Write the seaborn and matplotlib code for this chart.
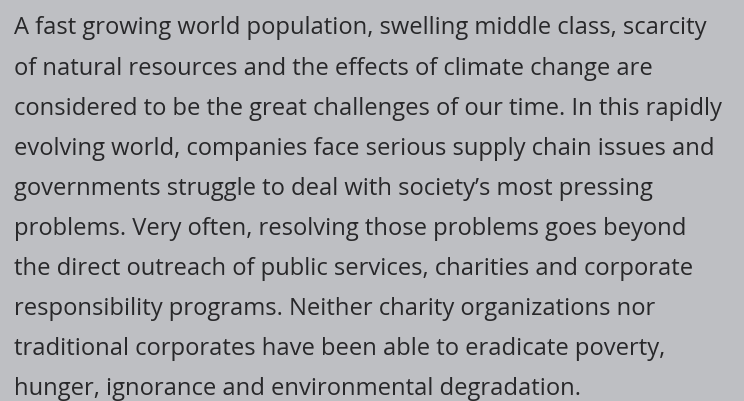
import matplotlib
matplotlib.use("Agg")
import matplotlib.pyplot as plt
import seaborn as sns

lines = [
    "A fast growing world population, swelling middle class, scarcity",
    "of natural resources and the effects of climate change are",
    "considered to be the great challenges of our time. In this rapidly",
    "evolving world, companies face serious supply chain issues and",
    "governments struggle to deal with society\u2019s most pressing",
    "problems. Very often, resolving those problems goes beyond",
    "the direct outreach of public services, charities and corporate",
    "responsibility programs. Neither charity organizations nor",
    "traditional corporates have been able to eradicate poverty,",
    "hunger, ignorance and environmental degradation.",
]

sns.set_theme(style="white")
plt.rcParams["font.family"] = ["Open Sans", "DejaVu Sans"]

bg = "#bebfc3"
fig = plt.figure(figsize=(7.44, 4.01), dpi=100, facecolor=bg)
ax = fig.add_axes([0, 0, 1, 1])
ax.set_facecolor(bg)
ax.set_xlim(0, 744)
ax.set_ylim(401, 0)
ax.axis("off")

x0 = 13.5
y0 = 34.5
dy = 40.06
for i, t in enumerate(lines):
    ax.text(x0, y0 + i * dy, t, fontsize=17.1, color="#28282a",
            va="baseline", ha="left")

fig.savefig("out.png", dpi=100, facecolor=bg)
